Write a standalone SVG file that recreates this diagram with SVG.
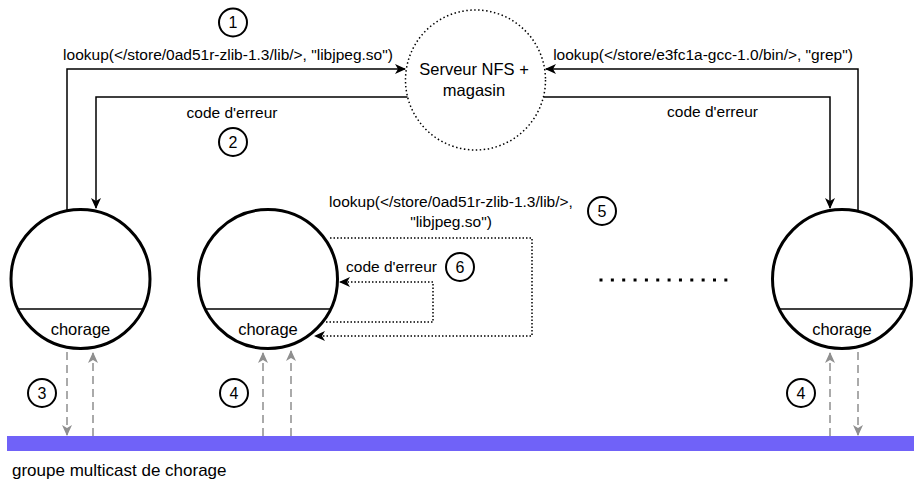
<svg xmlns="http://www.w3.org/2000/svg" width="914" height="480" viewBox="0 0 914 480">
<style>
text{font-family:"Liberation Sans",Arial,sans-serif;fill:#000}
.lbl{font-size:15.5px;text-anchor:middle}
.big{font-size:16.5px;text-anchor:middle}
.num{font-size:16px;text-anchor:middle}
.node{fill:#fff;stroke:#000;stroke-width:3}
.chord{stroke:#000;stroke-width:1.5}
.badge{fill:#fff;stroke:#000;stroke-width:2}
.solid{fill:none;stroke:#000;stroke-width:1.5}
.dot{fill:none;stroke:#000;stroke-width:1.5;stroke-dasharray:1.5 2}
.gray{fill:none;stroke:#8f8f8f;stroke-width:1.5;stroke-dasharray:8 5}
</style>
<defs>
<marker id="ab" markerUnits="userSpaceOnUse" markerWidth="12" markerHeight="10" refX="10" refY="5" orient="auto" viewBox="0 0 12 10">
<path d="M0,0 L11,5 L0,10 L3,5 Z" fill="#000"/>
</marker>
<marker id="ag" markerUnits="userSpaceOnUse" markerWidth="12" markerHeight="10" refX="10" refY="5" orient="auto" viewBox="0 0 12 10">
<path d="M0,0 L11,5 L0,10 L3,5 Z" fill="#8f8f8f"/>
</marker>
</defs>

<g id="multicast-bar">
<rect x="7" y="436" width="907" height="15" fill="#7062f8"/>
<text x="12" y="476" style="font-size:17px">groupe multicast de chorage</text>
</g>

<g id="server">
<circle cx="475.5" cy="80" r="70" fill="#fff" stroke="#000" stroke-width="1.5" stroke-dasharray="1.5 2.5"/>
<text class="big" x="474" y="75">Serveur NFS +</text>
<text class="big" x="474" y="96">magasin</text>
</g>

<g id="node1">
<circle class="node" cx="80.5" cy="279" r="69.5"/>
<line class="chord" x1="17" y1="309" x2="144" y2="309"/>
<text class="big" x="80.5" y="335">chorage</text>
</g>
<g id="node2">
<circle class="node" cx="268" cy="279" r="69.5"/>
<line class="chord" x1="205" y1="309" x2="331" y2="309"/>
<text class="big" x="268" y="335">chorage</text>
</g>
<g id="node3">
<circle class="node" cx="842" cy="279" r="69.5"/>
<line class="chord" x1="779" y1="309" x2="905" y2="309"/>
<text class="big" x="842" y="335">chorage</text>
</g>

<g id="ellipsis">
<line x1="599.5" y1="280" x2="728" y2="280" stroke="#000" stroke-width="3" stroke-dasharray="3 8.35"/>
</g>

<g id="connectors">
<path class="solid" d="M67,210 V69 H405" marker-end="url(#ab)"/>
<path class="solid" d="M407.5,97 H96 V208" marker-end="url(#ab)"/>
<path class="solid" d="M858,210 V69 H546" marker-end="url(#ab)"/>
<path class="solid" d="M543.5,97 H830 V208" marker-end="url(#ab)"/>
<path class="dot" d="M330,238 H532 V336 H315" marker-end="url(#ab)"/>
<path class="dot" d="M326,322 H433 V282 H340" marker-end="url(#ab)"/>
<path class="gray" d="M67,352 V435" marker-end="url(#ag)"/>
<path class="gray" d="M93,436 V353" marker-end="url(#ag)"/>
<path class="gray" d="M263,436 V353" marker-end="url(#ag)"/>
<path class="gray" d="M291,436 V351" marker-end="url(#ag)"/>
<path class="gray" d="M830,436 V353" marker-end="url(#ag)"/>
<path class="gray" d="M858,352 V435" marker-end="url(#ag)"/>
</g>

<g id="labels">
<text class="lbl" x="228" y="60">lookup(&lt;/store/0ad51r-zlib-1.3/lib/&gt;, "libjpeg.so")</text>
<text class="lbl" x="703" y="60">lookup(&lt;/store/e3fc1a-gcc-1.0/bin/&gt;, "grep")</text>
<text class="lbl" x="232" y="118">code d'erreur</text>
<text class="lbl" x="712.5" y="117">code d'erreur</text>
<text class="lbl" x="451" y="207">lookup(&lt;/store/0ad51r-zlib-1.3/lib/&gt;,</text>
<text class="lbl" x="451" y="227">"libjpeg.so")</text>
<text class="lbl" x="391.5" y="272">code d'erreur</text>
</g>

<g id="badges">
<g id="b1"><circle class="badge" cx="233" cy="22.5" r="14"/><text class="num" x="233" y="28">1</text></g>
<g id="b2"><circle class="badge" cx="233" cy="142" r="14"/><text class="num" x="233" y="147.5">2</text></g>
<g id="b3"><circle class="badge" cx="42" cy="393" r="14"/><text class="num" x="42" y="398.5">3</text></g>
<g id="b4a"><circle class="badge" cx="234" cy="393" r="14"/><text class="num" x="234" y="398.5">4</text></g>
<g id="b4b"><circle class="badge" cx="801" cy="393" r="14"/><text class="num" x="801" y="398.5">4</text></g>
<g id="b5"><circle class="badge" cx="602" cy="211" r="14"/><text class="num" x="602" y="216.5">5</text></g>
<g id="b6"><circle class="badge" cx="460" cy="267" r="14"/><text class="num" x="460" y="272.5">6</text></g>
</g>
</svg>
